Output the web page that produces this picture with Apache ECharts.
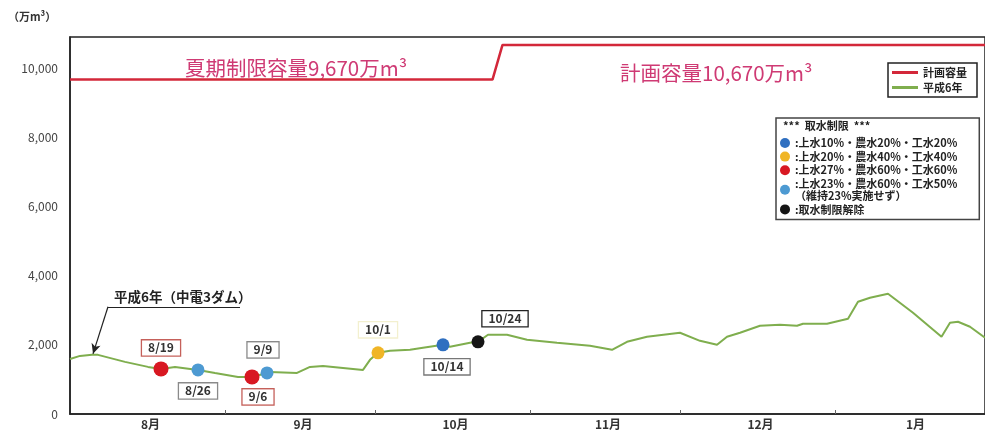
<!DOCTYPE html>
<html><head><meta charset="utf-8">
<script src="https://cdn.jsdelivr.net/npm/echarts@6/dist/echarts.min.js"></script>
<style>html,body{margin:0;padding:0;background:#fff}#c{width:985px;height:434px}</style>
</head><body><div id="c"></div>
<script>
// ---- data (x = days since 1994-08-01) ----
const monthStartDays = [0, 31, 61, 92, 122, 153, 184];
const monthLabels = ['8月', '9月', '10月', '11月', '12月', '1月'];
const yTickValues = [0, 2000, 4000, 6000, 8000, 10000];

const storageDays = [0, 2, 4.4, 5.6, 11, 15.6, 18.2, 21, 25.6, 29, 33.6, 36.4, 39.4, 40, 45.4, 48, 50.6, 54.6, 58.6, 60, 61.6, 64, 68, 70.6, 74.6, 76, 80, 81.6, 83.6, 87.4, 91.4, 97.4, 104, 108.4, 111.4, 115.4, 122, 126, 129.4, 131.4, 134, 138, 142, 145.4, 146.6, 151.4, 155.6, 157.6, 160, 163.6, 168.6, 174.3, 176, 177.6, 180, 183];
const storageValues = [1590, 1680, 1710, 1710, 1507, 1362, 1304, 1362, 1275, 1188, 1072, 1072, 1188, 1217, 1188, 1362, 1391, 1333, 1275, 1565, 1768, 1826, 1855, 1913, 2000, 1942, 2058, 2087, 2290, 2290, 2145, 2058, 1971, 1855, 2087, 2232, 2348, 2116, 2000, 2232, 2348, 2551, 2580, 2551, 2609, 2609, 2754, 3246, 3362, 3478, 2928, 2232, 2638, 2667, 2522, 2203];

const capacityDays = [0, 84.5, 86.5, 183];
const capacityValues = [9670, 9670, 10670, 10670];

const restrictionNames = ['上水10%・農水20%・工水20%', '上水20%・農水40%・工水40%', '上水27%・農水60%・工水60%', '上水23%・農水60%・工水50%', '取水制限解除'];
const restrictionNote = '（維持23%実施せず）';
const eventLabels = ['8/19', '8/26', '9/6', '9/9', '10/1', '10/14', '10/24'];
const eventDays = [18.2, 25.6, 36.4, 39.4, 61.6, 74.6, 81.6];
const eventValues = [1304, 1275, 1072, 1188, 1768, 2000, 2087];
const eventType = [2, 3, 2, 3, 1, 0, 4];

// ---- styles ----
const restrictionColors = ['#2f6fc0', '#f0b526', '#d81822', '#4d9ad2', '#151515'];
const labelStyle = {
  '8/19': {offset: [0, -21], border: '#c5605a'},
  '8/26': {offset: [0, 21], border: '#8a8a8a'},
  '9/6': {offset: [6, 20], border: '#c5605a'},
  '9/9': {offset: [-4, -23], border: '#8a8a8a'},
  '10/1': {offset: [0, -23], border: '#f3f0cf'},
  '10/14': {offset: [4, 22], border: '#777'},
  '10/24': {offset: [27, -23], border: '#222'}
};
const FONT = '"Noto Sans CJK JP", "Noto Sans", sans-serif';
const pink = '#cf3a74';

const chart = echarts.init(document.getElementById('c'));

const scatterSeries = restrictionNames.map((name, t) => ({
  name: name,
  type: 'scatter',
  z: 5,
  symbolSize: t === 2 ? 15 : 13,
  itemStyle: {color: restrictionColors[t], opacity: 1},
  data: eventLabels.map((lab, i) => ({lab, i})).filter(o => eventType[o.i] === t).map(o => ({
    value: [eventDays[o.i], eventValues[o.i]],
    label: {
      show: true, position: 'inside', formatter: o.lab,
      offset: labelStyle[o.lab].offset,
      color: '#333', fontSize: 12, fontFamily: FONT, fontWeight: 'bold',
      borderColor: labelStyle[o.lab].border, borderWidth: 1.3,
      backgroundColor: '#fff', padding: [2, 6, 1, 6]
    }
  }))
}));

const option = {
  animation: false,
  textStyle: {fontFamily: FONT},
  grid: {left: 70, right: -2, top: 37, bottom: 20, show: true, borderColor: '#222', borderWidth: 1.5, backgroundColor: 'transparent'},
  xAxis: {
    type: 'value', min: 0, max: 183,
    splitLine: {show: false},
    axisLine: {show: true, lineStyle: {color: '#222', width: 1.5}},
    axisTick: {show: true, inside: true, length: 4, lineStyle: {color: '#666'}, customValues: monthStartDays.slice(1, 6)},
    axisLabel: {
      color: '#333', fontSize: 12, fontWeight: 'bold', margin: 4,
      customValues: monthLabels.map((m, i) => (monthStartDays[i] + monthStartDays[i + 1]) / 2 + 0.6),
      formatter: v => {
        for (let i = 0; i < monthLabels.length; i++) {
          if (v > monthStartDays[i] && v < monthStartDays[i + 1]) return monthLabels[i];
        }
        return '';
      }
    }
  },
  yAxis: {
    type: 'value', min: 0, max: 10900, interval: 2000,
    splitLine: {show: false},
    axisLine: {show: true, lineStyle: {color: '#222', width: 1.5}},
    axisTick: {show: false},
    axisLabel: {
      color: '#444', fontSize: 12, margin: 12, showMaxLabel: false,
      formatter: v => yTickValues.indexOf(v) >= 0 ? v.toLocaleString('en-US') : ''
    }
  },
  legend: [
    {
      data: ['計画容量', '平成6年'],
      orient: 'vertical', right: 8, top: 63,
      icon: 'rect', itemWidth: 26, itemHeight: 3, itemGap: 4,
      borderColor: '#222', borderWidth: 1.5, padding: [4, 10, 4, 4],
      textStyle: {fontSize: 11, fontWeight: 'bold', color: '#222'}
    },
    {
      data: restrictionNames,
      orient: 'vertical', left: 776, top: 118,
      icon: 'circle', itemWidth: 10, itemHeight: 10, itemGap: 1.6,
      borderColor: '#444', borderWidth: 1.5, padding: [19, 22, 4, 4],
      textStyle: {fontSize: 11, fontWeight: 'bold', color: '#222', lineHeight: 12},
      formatter: n => n === restrictionNames[3] ? ':' + n + '\n' + restrictionNote : ':' + n
    }
  ],
  graphic: [
    {type: 'text', left: 8, top: 11, style: {text: '（万m³）', font: 'bold 11px ' + FONT, fill: '#333'}},
    {type: 'text', left: 185, top: 58, style: {text: '夏期制限容量9,670万m³', font: '20.5px ' + FONT, fill: pink}},
    {type: 'text', left: 620, top: 63, style: {text: '計画容量10,670万m³', font: '20.5px ' + FONT, fill: pink}},
    {type: 'text', left: 783, top: 120, style: {text: '***  取水制限  ***', font: 'bold 11px ' + FONT, fill: '#222'}}
  ],
  series: [
    {
      name: '計画容量', type: 'line', symbol: 'none', z: 3,
      lineStyle: {color: '#d3283a', width: 2.5}, itemStyle: {color: '#d3283a'},
      data: capacityDays.map((d, i) => [d, capacityValues[i]])
    },
    {
      name: '平成6年', type: 'line', symbol: 'none', z: 3,
      lineStyle: {color: '#7fae4e', width: 2}, itemStyle: {color: '#7fae4e'},
      data: storageDays.map((d, i) => [d, storageValues[i]]),
      markLine: {
        silent: true, animation: false,
        lineStyle: {color: '#222', width: 1.2, type: 'solid'},
        symbolSize: [7, 10],
        data: [
          [{coord: [7.6, 3100], symbol: 'none'}, {coord: [4.6, 1740], symbol: 'arrow'}],
          [{coord: [7.6, 3100], symbol: 'none',
            label: {show: true, position: 'insideStartTop', formatter: '平成6年（中電3ダム）', fontSize: 13.5, fontWeight: 'bold', color: '#222', distance: [6, 3]}},
           {coord: [34, 3100], symbol: 'none'}]
        ],
        label: {show: false}
      }
    }
  ].concat(scatterSeries)
};
chart.setOption(option);
</script></body></html>
